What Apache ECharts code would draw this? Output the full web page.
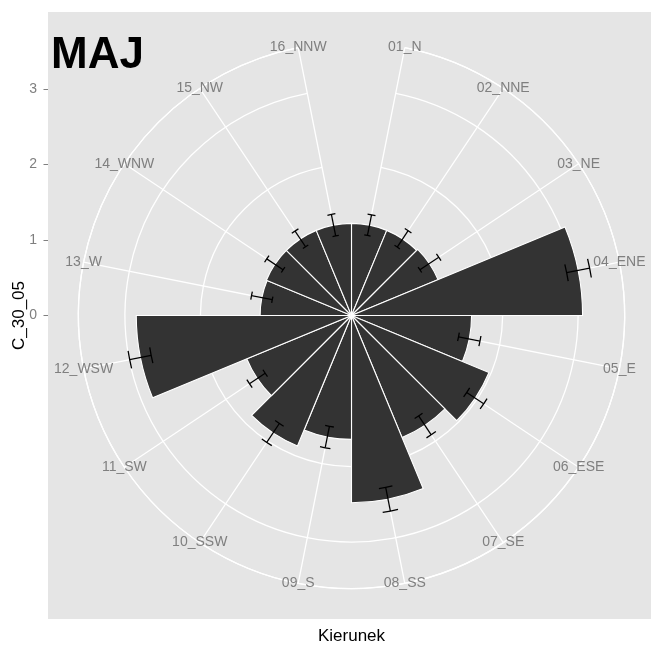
<!DOCTYPE html>
<html>
<head>
<meta charset="utf-8">
<script src="https://cdn.jsdelivr.net/npm/echarts@6/dist/echarts.min.js"></script>
<style>
html, body { margin: 0; padding: 0; background: #fff; }
#chart { width: 651px; height: 653px; }
</style>
</head>
<body>
<div id="chart"></div>
<script>
// directions (theta), mean values and error half-widths
var categories = ['01_N', '02_NNE', '03_NE', '04_ENE', '05_E', '06_ESE', '07_SE', '08_SS',
  '09_S', '10_SSW', '11_SW', '12_WSW', '13_W', '14_WNW', '15_NW', '16_NNW'];
var values = [1.22, 1.22, 1.24, 3.06, 1.59, 1.97, 1.75, 2.48,
  1.64, 1.87, 1.50, 2.85, 1.21, 1.22, 1.22, 1.22];
var errors = [0.14, 0.13, 0.15, 0.155, 0.145, 0.135, 0.15, 0.16,
  0.145, 0.15, 0.125, 0.145, 0.14, 0.13, 0.125, 0.145];
var yTicks = [0, 1, 2, 3];

var panelLeft = 48, panelTop = 12, panelSize = 607;
var cx = panelLeft + panelSize / 2;
var cy = panelTop + panelSize / 2;

// ggplot coord_polar: data range -> 0.4 of panel, outer ring at 0.45
var rTop = 0;
values.forEach(function (v, i) {
  rTop = Math.max(rTop, v + errors[i]);
});
var pxPerUnit = 0.4 * panelSize / rTop;
var rOuter = rTop * 0.45 / 0.4;
var halfUnits = (panelSize / 2) / pxPerUnit;

var labelColor = '#7f7f7f';
var font = '"Liberation Sans", Arial, sans-serif';

var chart = echarts.init(document.getElementById('chart'));

chart.setOption({
  animation: false,
  textStyle: { fontFamily: font },
  grid: {
    left: panelLeft,
    top: panelTop,
    width: panelSize,
    height: panelSize,
    outerBoundsMode: 'none',
    containLabel: false,
    show: true,
    backgroundColor: '#e5e5e5',
    borderWidth: 0,
    z: 0
  },
  xAxis: {
    type: 'value',
    min: 0,
    max: 1,
    axisLine: { show: false },
    axisTick: { show: false },
    axisLabel: { show: false },
    splitLine: { show: false },
    name: 'Kierunek',
    nameLocation: 'middle',
    nameGap: 9,
    nameTextStyle: { color: '#000', fontSize: 17, verticalAlign: 'top' }
  },
  yAxis: {
    type: 'value',
    min: -halfUnits,
    max: halfUnits,
    axisLine: { show: false },
    splitLine: { show: false },
    axisTick: {
      show: true,
      length: 4.5,
      customValues: yTicks,
      lineStyle: { color: labelColor, width: 1 }
    },
    axisLabel: {
      customValues: yTicks,
      color: labelColor,
      fontSize: 14,
      margin: 11
    },
    name: 'C_30_05',
    nameLocation: 'middle',
    nameGap: 20,
    nameMoveOverlap: false,
    nameTextStyle: { color: '#000', fontSize: 17 }
  },
  polar: {
    center: [cx, cy],
    radius: rOuter * pxPerUnit
  },
  angleAxis: {
    type: 'category',
    data: categories,
    boundaryGap: false,
    startAngle: 90 - 180 / categories.length,
    clockwise: true,
    z: 1,
    axisLine: { show: true, lineStyle: { color: '#ffffff', width: 1.3 } },
    axisTick: { show: false },
    axisLabel: { show: false },
    splitLine: { show: true, lineStyle: { color: '#ffffff', width: 1.3 } }
  },
  radiusAxis: {
    type: 'value',
    min: 0,
    max: rOuter,
    interval: 1,
    z: 1,
    axisLine: { show: false },
    axisTick: { show: false },
    axisLabel: { show: false },
    splitLine: { show: true, lineStyle: { color: '#ffffff', width: 1.3 } }
  },
  graphic: [{
    type: 'text',
    x: 51,
    y: 56,
    z: 10,
    style: {
      text: 'MAJ',
      font: 'bold 44px ' + font,
      fill: '#000',
      align: 'left',
      verticalAlign: 'middle'
    }
  }],
  series: [
    {
      type: 'bar',
      coordinateSystem: 'polar',
      data: values,
      barCategoryGap: '0%',
      z: 2,
      itemStyle: { color: '#333333', borderColor: '#ffffff', borderWidth: 1.1 }
    },
    {
      type: 'custom',
      coordinateSystem: 'polar',
      z: 3,
      data: values.map(function (v, i) { return [v, i, errors[i]]; }),
      renderItem: function (params, api) {
        var v = api.value(0), i = api.value(1), e = api.value(2);
        var c = api.coord([0, i]);
        var a = api.coord([v - e, i]);
        var b = api.coord([v + e, i]);
        var nb = api.coord([1, (i + 1) % categories.length]);
        var ang = Math.atan2(b[1] - c[1], b[0] - c[0]);
        var angNext = Math.atan2(nb[1] - c[1], nb[0] - c[0]);
        var step = Math.abs(angNext - ang);
        if (step > Math.PI) step = 2 * Math.PI - step;
        var half = step * 0.1;
        var style = { stroke: '#000', lineWidth: 1.3, fill: null };
        var ra = Math.hypot(a[0] - c[0], a[1] - c[1]);
        var rb = Math.hypot(b[0] - c[0], b[1] - c[1]);
        return {
          type: 'group',
          children: [
            { type: 'line', shape: { x1: a[0], y1: a[1], x2: b[0], y2: b[1] }, style: style },
            { type: 'arc', shape: { cx: c[0], cy: c[1], r: ra, startAngle: ang - half, endAngle: ang + half, clockwise: true }, style: style },
            { type: 'arc', shape: { cx: c[0], cy: c[1], r: rb, startAngle: ang - half, endAngle: ang + half, clockwise: true }, style: style }
          ]
        };
      }
    },
    {
      type: 'custom',
      coordinateSystem: 'polar',
      z: 4,
      data: categories.map(function (c, i) { return [rOuter, i]; }),
      renderItem: function (params, api) {
        var p = api.coord([api.value(0), api.value(1)]);
        return {
          type: 'text',
          x: p[0],
          y: p[1],
          style: {
            text: categories[params.dataIndex],
            fill: labelColor,
            font: '14px ' + font,
            align: 'center',
            verticalAlign: 'middle'
          }
        };
      }
    }
  ]
});
</script>
</body>
</html>
